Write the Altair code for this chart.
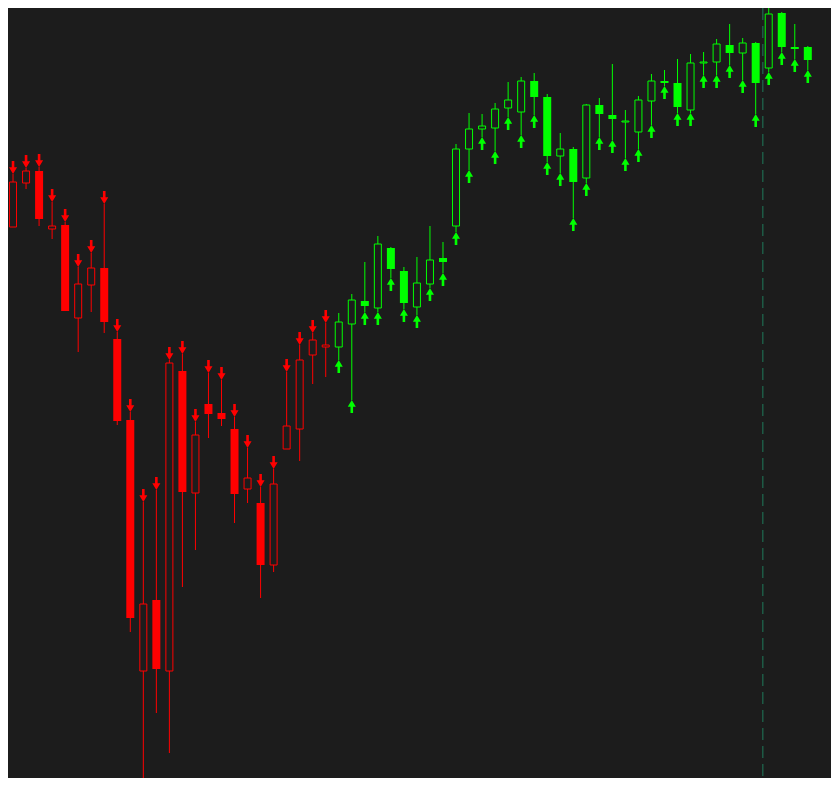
import altair as alt
import pandas as pd

# OHLC values (one candle per bar, oldest first)
opens = [759, 773, 817, 829, 771, 775, 682, 715, 732, 661,
         580, 329, 400, 329, 629, 507, 596, 587, 571, 511,
         497, 435, 551, 571, 645, 653,
         653, 676, 699, 692, 752, 729, 693, 716, 742, 774,
         851, 871, 872, 892, 888, 919, 903, 844, 851, 822,
         895, 885, 878, 868, 899, 919, 917, 890, 937, 938,
         955, 947, 957, 932, 987, 953, 953]
closes = [762, 818, 829, 781, 774, 689, 716, 732, 678, 579,
          382, 396, 331, 637, 508, 565, 586, 581, 506, 522,
          435, 516, 574, 640, 660, 655,
          678, 700, 694, 756, 731, 697, 717, 740, 738, 851,
          871, 874, 891, 900, 919, 903, 844, 851, 818, 895,
          886, 881, 879, 900, 919, 917, 893, 937, 938, 956,
          947, 957, 917, 986, 953, 951, 940]
highs = [768, 826, 832, 833, 798, 778, 733, 747, 796, 668,
         588, 498, 510, 640, 646, 578, 627, 620, 583, 552,
         513, 531, 628, 655, 667, 677,
         687, 706, 738, 764, 753, 733, 743, 774, 758, 856,
         887, 886, 897, 918, 923, 927, 906, 867, 853, 896,
         902, 936, 890, 904, 926, 930, 941, 946, 948, 961,
         976, 962, 958, 997, 988, 976, 954]
lows = [755, 773, 811, 774, 761, 689, 648, 688, 667, 575,
        368, 222, 287, 247, 413, 450, 562, 574, 477, 497,
        402, 428, 551, 539, 616, 623,
        640, 600, 688, 688, 722, 691, 685, 712, 727, 768,
        830, 863, 849, 883, 865, 885, 838, 827, 782, 817,
        863, 860, 842, 851, 875, 914, 887, 887, 925, 925,
        935, 920, 886, 928, 948, 941, 930]
trend = ["down"] * 26 + ["up"] * 37
separator_x = [58.55]

BG = "#1c1c1c"
RED = "#ff0000"
GREEN = "#00ff00"

df = pd.DataFrame({
    "i": list(range(len(opens))),
    "open": opens, "high": highs, "low": lows, "close": closes,
    "trend": trend,
})

xs = alt.Scale(domain=[0.614, 63.78], nice=False, zero=False, padding=0)
ys = alt.Scale(domain=[222, 992], nice=False, zero=False, padding=0)
cs = alt.Scale(domain=["down", "up"], range=[RED, GREEN])

X = alt.X("i:Q", scale=xs, axis=None)

DOWN = "M-0.2,-1 L0.2,-1 L0.2,-0.05 L0.62,-0.05 L0,1 L-0.62,-0.05 L-0.2,-0.05 Z"
UP = "M-0.2,1 L0.2,1 L0.2,0.05 L0.62,0.05 L0,-1 L-0.62,0.05 L-0.2,0.05 Z"

base = alt.Chart(df)

sep = alt.Chart(pd.DataFrame({"x": separator_x})).mark_rule(
    color="#1f7a5a", strokeDash=[12, 6], strokeWidth=1, clip=True
).encode(x=alt.X("x:Q", scale=xs, axis=None))

wicks = base.mark_rule(strokeWidth=1, clip=True).encode(
    x=X,
    y=alt.Y("low:Q", scale=ys, axis=None),
    y2="high:Q",
    color=alt.Color("trend:N", scale=cs, legend=None),
)

filled = base.transform_filter("datum.close < datum.open").mark_bar(
    size=8, clip=True
).encode(
    x=X,
    y=alt.Y("open:Q", scale=ys, axis=None),
    y2="close:Q",
    fill=alt.Fill("trend:N", scale=cs, legend=None),
)

hollow = base.transform_filter("datum.close >= datum.open").mark_bar(
    size=7, fill=BG, strokeWidth=1, clip=True
).encode(
    x=X,
    y=alt.Y("open:Q", scale=ys, axis=None),
    y2="close:Q",
    stroke=alt.Stroke("trend:N", scale=cs, legend=None),
)

down_arrows = base.transform_filter("datum.trend == 'down'").mark_point(
    shape=DOWN, size=169, filled=True, strokeWidth=0, yOffset=-6.5, opacity=1, clip=True
).encode(
    x=X,
    y=alt.Y("high:Q", scale=ys, axis=None),
    color=alt.Color("trend:N", scale=cs, legend=None),
)

up_arrows = base.transform_filter("datum.trend == 'up'").mark_point(
    shape=UP, size=169, filled=True, strokeWidth=0, yOffset=6.5, opacity=1, clip=True
).encode(
    x=X,
    y=alt.Y("low:Q", scale=ys, axis=None),
    color=alt.Color("trend:N", scale=cs, legend=None),
)

chart = alt.layer(sep, wicks, filled, hollow, down_arrows, up_arrows).properties(
    width=823, height=770, background=BG, padding=0, autosize="none"
).configure_view(stroke=None)

chart.save("out.html", embed_options={"renderer": "svg", "actions": False})
